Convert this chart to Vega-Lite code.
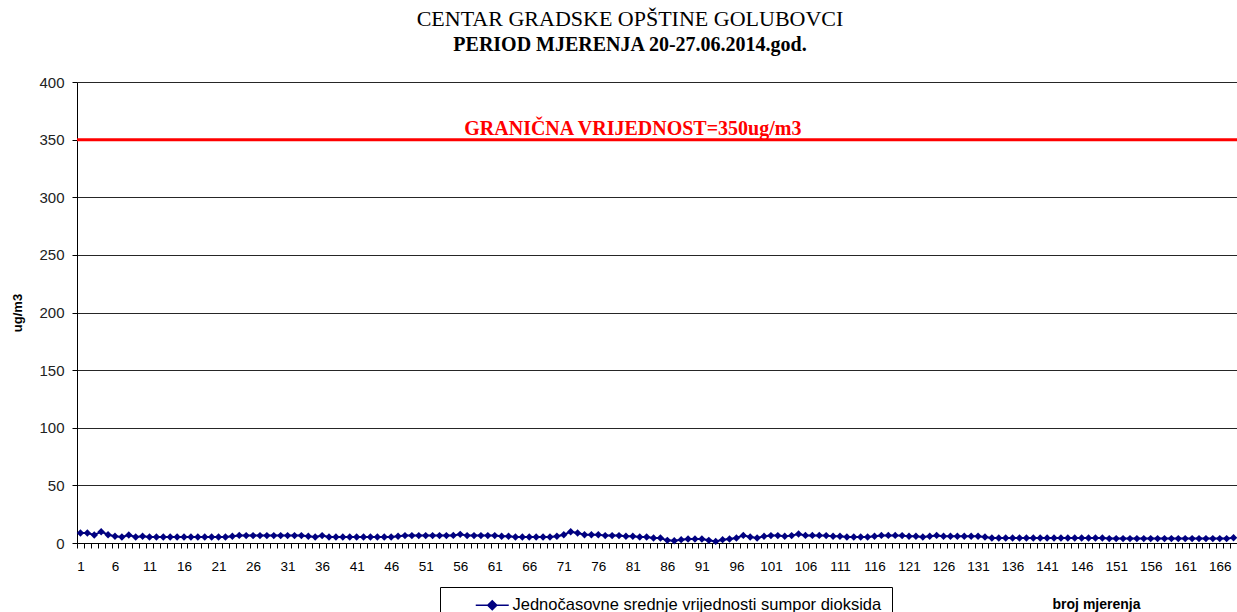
{
  "$schema": "https://vega.github.io/schema/vega-lite/v6.json",
  "width": 1160,
  "height": 461,
  "autosize": {"type": "none"},
  "padding": {"left": 77, "top": 82, "right": 0, "bottom": 69},
  "background": "white",
  "config": {"view": {"stroke": null}, "font": "Liberation Sans"},
  "title": {
    "text": "CENTAR GRADSKE OPŠTINE GOLUBOVCI",
    "subtitle": "PERIOD MJERENJA 20-27.06.2014.god.",
    "font": "Liberation Serif",
    "fontSize": 22,
    "fontWeight": "normal",
    "color": "black",
    "subtitleFont": "Liberation Serif",
    "subtitleFontSize": 20,
    "subtitleFontWeight": "bold",
    "subtitleColor": "black",
    "subtitlePadding": 4,
    "anchor": "middle",
    "offset": 19,
    "dx": -27
  },
  "datasets": {
    "limit": [{"n": 81, "v": 350, "label": "GRANIČNA VRIJEDNOST=350ug/m3"}],
    "so2": [
    {"n":1,"v":8.7},{"n":2,"v":8.7},{"n":3,"v":6.9},{"n":4,"v":9.8},{"n":5,"v":7.2},{"n":6,"v":5.8},{"n":7,"v":5.2},{"n":8,"v":6.9},{"n":9,"v":5.2},{"n":10,"v":5.8},
    {"n":11,"v":5.2},{"n":12,"v":5.2},{"n":13,"v":5.2},{"n":14,"v":5.2},{"n":15,"v":5.2},{"n":16,"v":5.2},{"n":17,"v":5.2},{"n":18,"v":5.2},{"n":19,"v":5.2},{"n":20,"v":5.2},
    {"n":21,"v":5.2},{"n":22,"v":5.2},{"n":23,"v":5.8},{"n":24,"v":6.6},{"n":25,"v":6.4},{"n":26,"v":6.4},{"n":27,"v":6.4},{"n":28,"v":6.4},{"n":29,"v":6.4},{"n":30,"v":6.4},
    {"n":31,"v":6.4},{"n":32,"v":6.4},{"n":33,"v":6.4},{"n":34,"v":5.8},{"n":35,"v":5.2},{"n":36,"v":6.4},{"n":37,"v":5.2},{"n":38,"v":5.2},{"n":39,"v":5.2},{"n":40,"v":5.2},
    {"n":41,"v":5.2},{"n":42,"v":5.2},{"n":43,"v":5.2},{"n":44,"v":5.2},{"n":45,"v":5.2},{"n":46,"v":5.2},{"n":47,"v":5.8},{"n":48,"v":6.4},{"n":49,"v":6.4},{"n":50,"v":6.4},
    {"n":51,"v":6.4},{"n":52,"v":6.4},{"n":53,"v":6.4},{"n":54,"v":6.4},{"n":55,"v":6.6},{"n":56,"v":7.5},{"n":57,"v":6.4},{"n":58,"v":6.4},{"n":59,"v":6.4},{"n":60,"v":6.4},
    {"n":61,"v":6.4},{"n":62,"v":5.8},{"n":63,"v":5.8},{"n":64,"v":5.2},{"n":65,"v":5.2},{"n":66,"v":5.2},{"n":67,"v":5.2},{"n":68,"v":5.2},{"n":69,"v":5.2},{"n":70,"v":5.8},
    {"n":71,"v":7.2},{"n":72,"v":9.8},{"n":73,"v":8.7},{"n":74,"v":7.2},{"n":75,"v":7.2},{"n":76,"v":7.2},{"n":77,"v":6.4},{"n":78,"v":6.4},{"n":79,"v":6.4},{"n":80,"v":5.8},
    {"n":81,"v":5.8},{"n":82,"v":5.2},{"n":83,"v":5.2},{"n":84,"v":4.3},{"n":85,"v":4.3},{"n":86,"v":2.3},{"n":87,"v":2.0},{"n":88,"v":2.9},{"n":89,"v":3.5},{"n":90,"v":3.5},
    {"n":91,"v":3.5},{"n":92,"v":2.3},{"n":93,"v":1.4},{"n":94,"v":2.9},{"n":95,"v":3.5},{"n":96,"v":4.3},{"n":97,"v":6.6},{"n":98,"v":5.2},{"n":99,"v":4.3},{"n":100,"v":5.8},
    {"n":101,"v":6.4},{"n":102,"v":6.4},{"n":103,"v":5.8},{"n":104,"v":6.4},{"n":105,"v":7.8},{"n":106,"v":6.6},{"n":107,"v":6.6},{"n":108,"v":6.6},{"n":109,"v":6.4},{"n":110,"v":5.8},
    {"n":111,"v":5.8},{"n":112,"v":5.2},{"n":113,"v":5.2},{"n":114,"v":5.2},{"n":115,"v":5.2},{"n":116,"v":5.8},{"n":117,"v":6.6},{"n":118,"v":6.6},{"n":119,"v":6.6},{"n":120,"v":6.4},
    {"n":121,"v":5.8},{"n":122,"v":5.8},{"n":123,"v":5.2},{"n":124,"v":5.8},{"n":125,"v":6.6},{"n":126,"v":5.8},{"n":127,"v":5.8},{"n":128,"v":5.8},{"n":129,"v":5.8},{"n":130,"v":5.8},
    {"n":131,"v":5.8},{"n":132,"v":5.2},{"n":133,"v":4.3},{"n":134,"v":4.3},{"n":135,"v":4.3},{"n":136,"v":4.3},{"n":137,"v":4.3},{"n":138,"v":4.3},{"n":139,"v":4.3},{"n":140,"v":4.3},
    {"n":141,"v":4.3},{"n":142,"v":4.3},{"n":143,"v":4.3},{"n":144,"v":4.3},{"n":145,"v":4.3},{"n":146,"v":4.3},{"n":147,"v":4.3},{"n":148,"v":4.3},{"n":149,"v":4.3},{"n":150,"v":3.8},
    {"n":151,"v":3.8},{"n":152,"v":3.8},{"n":153,"v":3.8},{"n":154,"v":3.8},{"n":155,"v":3.8},{"n":156,"v":3.8},{"n":157,"v":3.8},{"n":158,"v":3.8},{"n":159,"v":3.8},{"n":160,"v":3.8},
    {"n":161,"v":3.8},{"n":162,"v":3.8},{"n":163,"v":3.8},{"n":164,"v":3.8},{"n":165,"v":3.8},{"n":166,"v":3.8},{"n":167,"v":3.8},{"n":168,"v":4.6}
    ]
  },
  "encoding": {
    "x": {
      "field": "n",
      "type": "ordinal",
      "sort": "ascending",
      "scale": {"type": "band", "paddingInner": 0, "paddingOuter": 0},
      "axis": {
        "title": "broj mjerenja",
        "titleFont": "Liberation Sans",
        "titleFontSize": 14,
        "titleFontWeight": "bold",
        "titleColor": "black",
        "titleX": 1019,
        "titleY": 61,
        "titleAlign": "center",
        "titleBaseline": "middle",
        "labelAngle": 0,
        "labelFontSize": 13.5,
        "labelColor": "black",
        "labelPadding": 11,
        "labelOverlap": false,
        "labelExpr": "(datum.value - 1) % 5 == 0 ? datum.label : ''",
        "tickBand": "extent",
        "tickSize": 5,
        "tickColor": "black",
        "domainColor": "black",
        "grid": false
      }
    },
    "y": {
      "field": "v",
      "type": "quantitative",
      "scale": {"domain": [0, 400], "nice": false},
      "axis": {
        "title": "ug/m3",
        "titleFont": "Liberation Sans",
        "titleFontSize": 13,
        "titleFontWeight": "bold",
        "titleColor": "black",
        "titlePadding": 14,
        "values": [0, 50, 100, 150, 200, 250, 300, 350, 400],
        "labelFontSize": 15,
        "labelColor": "#222",
        "labelPadding": 8,
        "tickSize": 5,
        "tickColor": "black",
        "domainColor": "black",
        "grid": true,
        "gridColor": "black",
        "gridOpacity": 0.85
      }
    }
  },
  "layer": [
    {
      "data": {"name": "limit"},
      "mark": {"type": "rule", "color": "#ff0000", "strokeWidth": 3},
      "encoding": {"x": null, "y": {"field": "v", "type": "quantitative"}}
    },
    {
      "data": {"name": "limit"},
      "mark": {"type": "text", "color": "#ff0000", "font": "Liberation Serif", "fontSize": 20, "fontWeight": "bold", "dy": -11, "align": "center"},
      "encoding": {"text": {"field": "label"}}
    },
    {
      "data": {"name": "so2"},
      "mark": {"type": "line", "strokeWidth": 2},
      "encoding": {
        "color": {
          "datum": "Jednočasovne srednje vrijednosti sumpor dioksida",
          "scale": {"range": ["#000080"]},
          "legend": {
            "title": null,
            "orient": "none",
            "legendX": 363,
            "legendY": 505,
            "padding": 10,
            "strokeColor": "black",
            "fillColor": "white",
            "labelFont": "Liberation Sans",
            "labelFontSize": 16.5,
            "labelColor": "black",
            "labelLimit": 600,
            "symbolType": "M-3.3,0L3.3,0M0,-0.9L0.9,0L0,0.9L-0.9,0Z",
            "symbolSize": 100,
            "symbolStrokeWidth": 1.5,
            "symbolFillColor": "#000080",
            "symbolStrokeColor": "#000080",
            "symbolOffset": 34,
            "labelOffset": 12
          }
        }
      }
    },
    {
      "data": {"name": "so2"},
      "mark": {"type": "point", "shape": "diamond", "filled": true, "size": 55, "opacity": 1},
      "encoding": {
        "color": {"datum": "Jednočasovne srednje vrijednosti sumpor dioksida"}
      }
    }
  ]
}
